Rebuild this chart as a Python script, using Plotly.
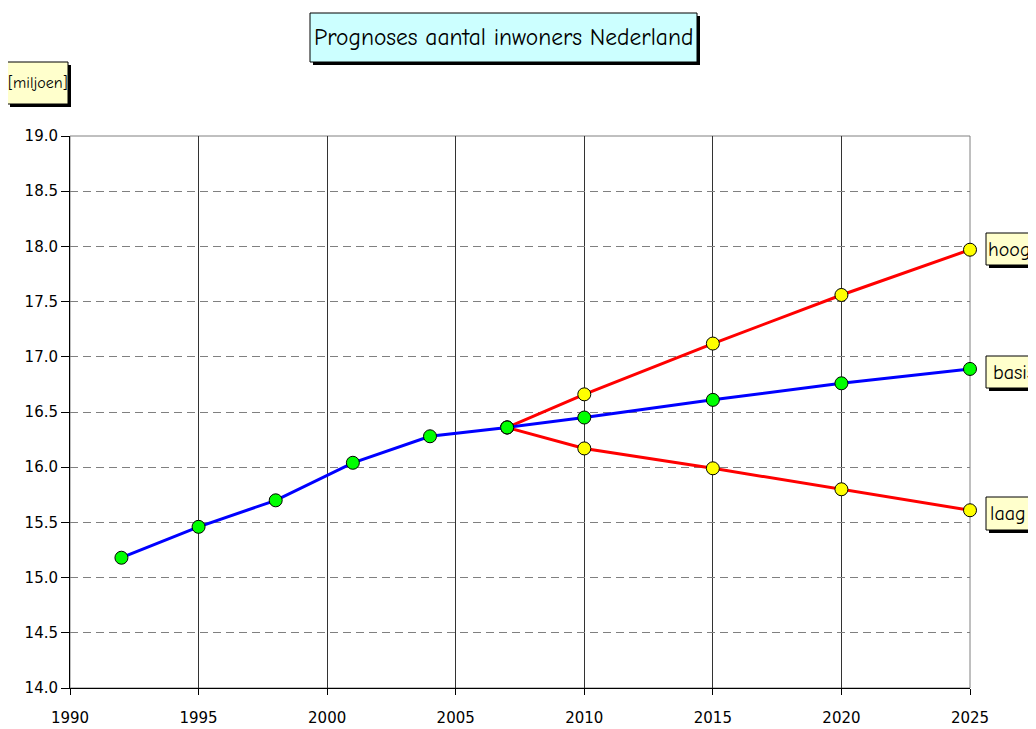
import plotly.graph_objects as go

# ---- data ----
years_hist = [1992, 1995, 1998, 2001, 2004, 2007]
pop_hist = [15.18, 15.46, 15.70, 16.04, 16.28, 16.36]
years_proj = [2007, 2010, 2015, 2020, 2025]
pop_basis = [16.36, 16.45, 16.61, 16.76, 16.89]
pop_hoog = [16.36, 16.66, 17.12, 17.56, 17.97]
pop_laag = [16.36, 16.17, 15.99, 15.80, 15.61]
series_labels = ["hoog", "basis", "laag"]
title_text = "Prognoses aantal inwoners Nederland"
unit_text = "[miljoen]"

OFF = 8  # page body margin
W, H = 1036 - OFF, 729 - OFF
L, T = 70 - OFF, 136 - OFF
PW, PH = 900, 552
R, B = W - L - PW, H - T - PH

def px(x):  # page pixel -> paper
    return (x - OFF - L) / PW

def py(y):
    return (T + PH - (y - OFF)) / PH

box_font = "Comic Sans MS, Comic Neue, Lato, sans-serif"
tick_font = dict(family="DejaVu Sans, Verdana, sans-serif", size=15, color="black")

fig = go.Figure()

marker_y = dict(color="#FFFF00", size=13, line=dict(color="black", width=1))
marker_g = dict(color="#00FF00", size=13, line=dict(color="black", width=1))

for vals in (pop_hoog, pop_laag):
    fig.add_trace(go.Scatter(
        x=years_proj, y=vals, mode="lines+markers",
        line=dict(color="#FF0000", width=3), marker=marker_y,
        cliponaxis=False, showlegend=False, hoverinfo="x+y"))

fig.add_trace(go.Scatter(
    x=years_hist + years_proj[1:], y=pop_hist + pop_basis[1:],
    mode="lines+markers", line=dict(color="#0000FF", width=3),
    marker=marker_g, cliponaxis=False, showlegend=False, hoverinfo="x+y"))

shapes = []
annotations = []

def box(x0, y0, x1, y1, fill, text, size):
    shapes.append(dict(type="rect", xref="paper", yref="paper", layer="above",
                       x0=px(x0 + 3), x1=px(x1 + 3), y0=py(y1 + 3), y1=py(y0 + 3),
                       fillcolor="black", line=dict(width=0)))
    shapes.append(dict(type="rect", xref="paper", yref="paper", layer="above",
                       x0=px(x0), x1=px(x1), y0=py(y1), y1=py(y0),
                       fillcolor=fill, line=dict(color="black", width=1)))
    annotations.append(dict(text=text, xref="paper", yref="paper",
                            x=px((x0 + x1) / 2), y=py((y0 + y1) / 2),
                            xanchor="center", yanchor="middle", showarrow=False,
                            font=dict(family=box_font, size=size, color="black")))

# plot border (grey top / right)
shapes.append(dict(type="rect", xref="paper", yref="paper", layer="below",
                   x0=0, x1=1, y0=0, y1=1, line=dict(color="#808080", width=1)))

box(310, 13, 697, 62, "#CCFFFF", title_text, 23.5)
box(7, 62, 68, 104, "#FFFFCC", unit_text, 16)

lab_box = {"hoog": (233, 265, 46), "basis": (356, 388, 56), "laag": (497, 530, 44)}
for lab in series_labels:
    y0, y1, w = lab_box[lab]
    box(986, y0, 986 + w, y1, "#FFFFCC", lab, 20)

fig.update_layout(
    width=W, height=H,
    margin=dict(l=L, r=R, t=T, b=B, autoexpand=False),
    paper_bgcolor="white", plot_bgcolor="white",
    shapes=shapes, annotations=annotations,
    xaxis=dict(range=[1990, 2025], tickvals=list(range(1990, 2026, 5)),
               showgrid=True, gridcolor="#333333", gridwidth=1,
               showline=True, linecolor="black", linewidth=1,
               ticks="outside", ticklen=6, tickcolor="black",
               ticklabelstandoff=10,
               tickfont=tick_font, zeroline=False, fixedrange=True),
    yaxis=dict(range=[14.0, 19.0], dtick=0.5, tickformat=".1f",
               showgrid=True, gridcolor="#808080", gridwidth=1, griddash="8px,5px",
               showline=True, linecolor="black", linewidth=1,
               ticks="outside", ticklen=8, tickcolor="black",
               tickfont=tick_font, zeroline=False, fixedrange=True),
)

fig.write_html("out.html")
